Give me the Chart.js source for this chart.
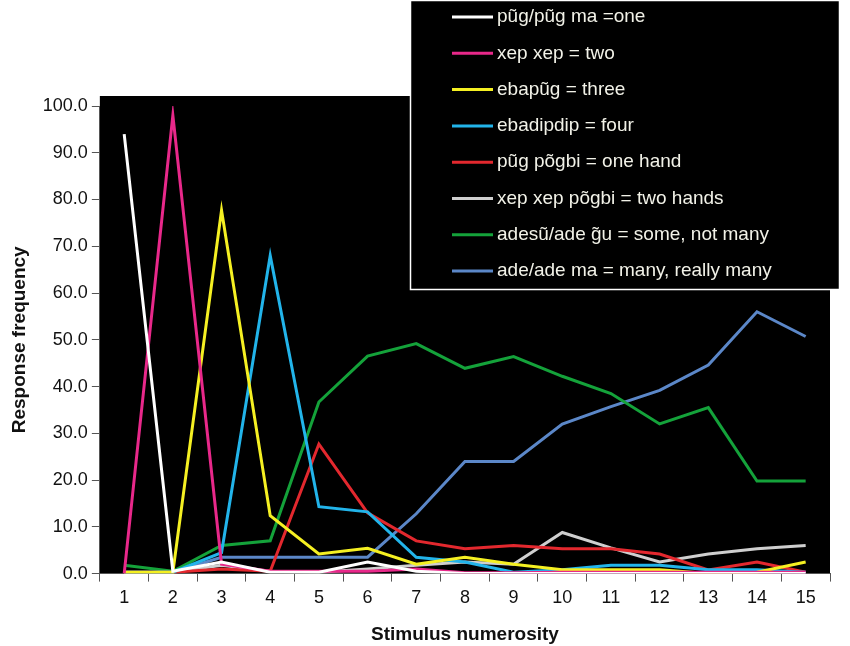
<!DOCTYPE html>
<html><head><meta charset="utf-8">
<script src="https://cdn.jsdelivr.net/npm/chart.js@4"></script>
<style>html,body{margin:0;padding:0;background:#fff}#w{width:850px;height:646px}</style>
</head><body><div id="w"><canvas id="c"></canvas></div>
<script>
const categories = ['1','2','3','4','5','6','7','8','9','10','11','12','13','14','15'];
const seriesLabels = ['pũg/pũg ma =one','xep xep = two','ebapũg = three','ebadipdip = four','pũg põgbi = one hand','xep xep põgbi = two hands','adesũ/ade g̃u = some, not many','ade/ade ma = many, really many'];
const seriesColors = ['#ffffff','#e8288a','#f5f022','#22b4ea','#e3282e','#cfcfcf','#14a23a','#5b87c8'];
const one      = [94,0.5,2.5,0.3,0.3,2.5,0.5,0,0,0,0,0,0,0,0];
const two      = [0,98,2,0.5,0.5,0.5,1,0.2,0.2,0.3,0.3,0.3,0.3,0.3,0.3];
const three    = [0.3,0.3,77.7,12.4,4.2,5.4,2,3.5,2,0.8,0.8,0.8,0,0.3,2.5];
const four     = [0.3,0.3,4.5,68,14.3,13.2,3.5,2.5,0.3,0.8,1.8,1.8,0.8,0.8,0.3];
const oneHand  = [0.3,0.3,1,0.5,27.7,13,7,5.3,6,5.3,5.3,4.2,0.8,2.5,0.3];
const twoHands = [0.3,0.3,1.8,0.5,0.3,1,1.8,2.5,2,8.8,5.5,2.5,4.2,5.3,6];
const some     = [1.8,0.5,6,7,36.7,46.5,49.2,43.9,46.4,42.2,38.5,32,35.5,19.8,19.8];
const many     = [0,0.3,3.5,3.5,3.5,3.5,12.8,24,24,32,35.7,39.2,44.6,56,50.7];
const values = [one,two,three,four,oneHand,twoHands,some,many];

const bg = {id:'bg',beforeDraw(ch){const a=ch.chartArea,c=ch.ctx;c.save();c.fillStyle='#000';c.fillRect(a.left,a.top-10,a.right-a.left,a.bottom-a.top+10);c.restore();}};
const leg = {id:'leg',afterDraw(ch){const c=ch.ctx;c.save();
  c.fillStyle='#000';c.fillRect(410,0,430,290);c.strokeStyle='#fff';c.lineWidth=1.5;c.strokeRect(410.5,0.5,429,289);
  c.font='19px "Liberation Sans", Arial, sans-serif';c.textBaseline='middle';
  ch.data.datasets.forEach((d,i)=>{const y=17+i*36.3;c.strokeStyle=d.borderColor;c.lineWidth=3;c.beginPath();c.moveTo(452,y);c.lineTo(493,y);c.stroke();
    c.fillStyle='#f2f2e8';c.fillText(d.label,497,y);});
  c.restore();}};
const F='"Liberation Sans", Arial';
new Chart(document.getElementById('c'),{type:'line',
 data:{labels:categories,datasets:values.map((v,i)=>({label:seriesLabels[i],data:v,borderColor:seriesColors[i],backgroundColor:seriesColors[i],borderWidth:3,pointRadius:0,tension:0}))},
 options:{responsive:true,maintainAspectRatio:false,animation:false,
  layout:{padding:{top:106,right:20,left:4,bottom:0}},
  plugins:{legend:{display:false},tooltip:{enabled:false}},
  scales:{
   x:{offset:true,grid:{display:true,drawOnChartArea:false,offset:true,color:'#555',tickLength:8},border:{color:'#555'},
      ticks:{color:'#111',font:{size:18,family:F},padding:6},
      title:{display:true,text:'Stimulus numerosity',color:'#111',font:{size:19,weight:'bold',family:F},padding:{top:8,bottom:0}}},
   y:{min:0,max:100,grid:{drawOnChartArea:false,color:'#555',tickLength:8},border:{color:'#555'},
      ticks:{stepSize:10,color:'#111',font:{size:18,family:F},padding:4,callback:v=>v.toFixed(1)},
      title:{display:true,text:'Response frequency',color:'#111',font:{size:19,weight:'bold',family:F},padding:{bottom:8}}}
  }},
 plugins:[bg,leg]});
</script></body></html>
